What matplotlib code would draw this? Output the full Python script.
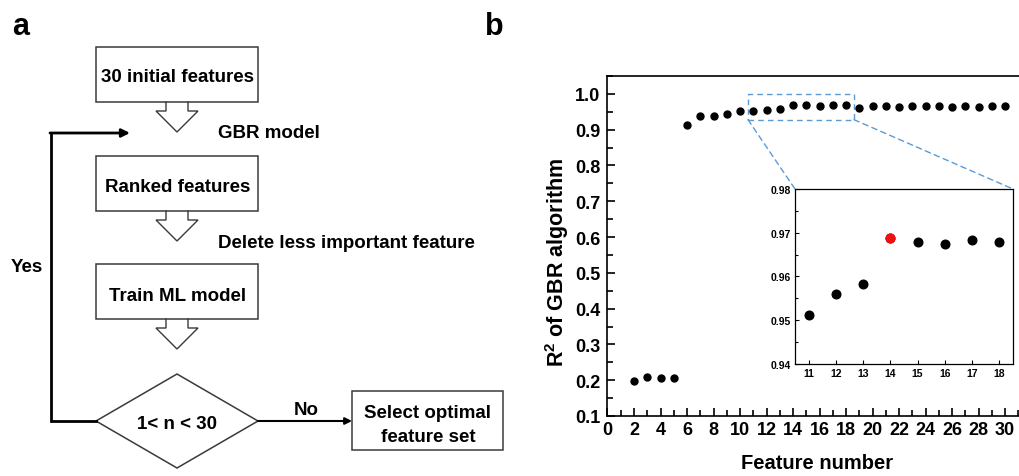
import matplotlib
matplotlib.use("Agg")
import matplotlib.pyplot as plt
from matplotlib.patches import Polygon, Rectangle, ConnectionPatch
from matplotlib.ticker import MultipleLocator, FormatStrFormatter

# feature-selection curve: number of features vs R2 of the GBR model
feature_num = [2, 3, 4, 5, 6, 7, 8, 9, 10, 11, 12, 13, 14, 15, 16,
               17, 18, 19, 20, 21, 22, 23, 24, 25, 26, 27, 28, 29, 30]
r2_score = [0.197, 0.210, 0.207, 0.206, 0.912, 0.938, 0.937, 0.944, 0.951,
            0.951, 0.956, 0.958, 0.969, 0.968, 0.9674, 0.9684, 0.968, 0.961,
            0.967, 0.967, 0.964, 0.966, 0.966, 0.967, 0.964, 0.965, 0.962,
            0.965, 0.965]

# zoomed range shown in the inset
zoom_num = [11, 12, 13, 14, 15, 16, 17, 18]
zoom_r2 = [0.9512, 0.9561, 0.9582, 0.9688, 0.9680, 0.9674, 0.9684, 0.9680]
best_num = 14

# flowchart labels
step_labels = ["30 initial features", "Ranked features", "Train ML model"]
side_labels = ["GBR model", "Delete less important feature"]
decision_label = "1< n < 30"
final_label = ["Select optimal", "feature set"]

plt.rcParams["font.family"] = ["Liberation Sans", "DejaVu Sans"]
plt.rcParams["font.weight"] = "bold"
plt.rcParams["mathtext.fontset"] = "custom"
plt.rcParams["mathtext.rm"] = "Liberation Sans:bold"
plt.rcParams["mathtext.bf"] = "Liberation Sans:bold"

W, H = 1020, 477
fig = plt.figure(figsize=(W / 100, H / 100), dpi=100)

# ---------------- panel a: flowchart drawn in pixel coordinates ----------------
fc = fig.add_axes([0, 0, 1, 1])
fc.set_xlim(0, W)
fc.set_ylim(H, 0)
fc.axis("off")

EDGE = "#3a3a3a"
FS = 13.5


def box(x0, y0, x1, y1):
    fc.add_patch(Rectangle((x0, y0), x1 - x0, y1 - y0, fill=False,
                           ec=EDGE, lw=1.1))


def hollow_arrow(cx, y0, tip):
    yh = y0 + 9
    xs = [cx - 11, cx - 11, cx - 21, cx, cx + 21, cx + 11, cx + 11]
    ys = [y0, yh, yh, tip, yh, yh, y0]
    fc.plot(xs, ys, color=EDGE, lw=1.0, solid_joinstyle="miter")


cx = 177
box_rows = [(48, 103), (157, 212), (265, 320)]
text_base = [82, 192, 301]
for (y0, y1), lab, yb in zip(box_rows, step_labels, text_base):
    box(96, y0, 258, y1)
    fc.text(cx + 1, yb, lab, ha="center", va="baseline", fontsize=FS)
    hollow_arrow(cx, y1, y1 + 30)

for lab, yb in zip(side_labels, [138, 248]):
    fc.text(218, yb, lab, ha="left", va="baseline", fontsize=FS)

fc.add_patch(Polygon([(96, 422), (cx, 375), (258, 422), (cx, 469)],
                     closed=True, fill=False, ec=EDGE, lw=1.1))
fc.text(cx, 429, decision_label, ha="center", va="baseline", fontsize=FS)

# loop back ("Yes") and exit ("No")
fc.plot([96, 51, 51], [422, 422, 134], color="black", lw=2.0,
        solid_joinstyle="miter")
fc.annotate("", xy=(130, 134), xytext=(50, 134),
            arrowprops=dict(arrowstyle="-|>", color="black", lw=2.0,
                            shrinkA=0, shrinkB=0, mutation_scale=12))
fc.annotate("", xy=(352, 422), xytext=(258, 422),
            arrowprops=dict(arrowstyle="-|>", color="black", lw=1.5,
                            shrinkA=0, shrinkB=0, mutation_scale=10))
fc.text(27, 272, "Yes", ha="center", va="baseline", fontsize=FS)
fc.text(306, 415, "No", ha="center", va="baseline", fontsize=FS)

box(352, 392, 503, 451)
for lab, yb in zip(final_label, [418, 442]):
    fc.text(428, yb, lab, ha="center", va="baseline", fontsize=FS)

fc.text(12, 35, "a", ha="left", va="baseline", fontsize=22)
fc.text(485, 35, "b", ha="left", va="baseline", fontsize=22)

# ---------------- panel b: R2 vs feature number ----------------
ax = fig.add_axes([607.5 / W, 1 - 417 / H, 412.5 / W, 340 / H])
ax.plot(feature_num, r2_score, "o", color="black", ms=5, zorder=3)
ax.set_xlim(0, 31.13)
ax.set_ylim(0.1, 1.05)
ax.xaxis.set_major_locator(MultipleLocator(2))
ax.xaxis.set_minor_locator(MultipleLocator(1))
ax.yaxis.set_major_locator(MultipleLocator(0.1))
ax.yaxis.set_minor_locator(MultipleLocator(0.05))
ax.yaxis.set_major_formatter(FormatStrFormatter("%.1f"))
ax.tick_params(which="both", direction="in", width=1.2, labelsize=13)
ax.tick_params(which="major", length=6)
ax.tick_params(which="minor", length=4)
ax.tick_params(axis="x", pad=3.5)
ax.tick_params(axis="y", pad=5)
for sp in ax.spines.values():
    sp.set_linewidth(1.2)
for lab in ax.get_xticklabels() + ax.get_yticklabels():
    lab.set_fontweight("bold")

ax.set_xlabel("Feature number", fontsize=14.5, fontweight="bold")
ax.set_ylabel(r"R$^{\mathbf{2}}$ of GBR algorithm", fontsize=15.5,
              fontweight="bold")
ax.xaxis.set_label_coords(0.509, -0.11)
ax.yaxis.set_label_coords(-0.088, 0.456)

# dashed frame around the zoomed region
zx0, zx1, zy0, zy1 = 10.6, 18.6, 0.928, 1.0
ZC = "#5b9bd5"
ax.add_patch(Rectangle((zx0, zy0), zx1 - zx0, zy1 - zy0, fill=False,
                       ec=ZC, lw=1.0, ls=(0, (4, 3)), zorder=2))

# inset
ins = fig.add_axes([795 / W, 1 - 365 / H, 218 / W, 175 / H])
ins.plot(zoom_num, zoom_r2, "o", color="black", ms=6.2, zorder=3)
i_best = zoom_num.index(best_num)
ins.plot([zoom_num[i_best]], [zoom_r2[i_best]], "o", color="#ee1111",
         ms=6.2, zorder=4)
ins.set_xlim(10.5, 18.5)
ins.set_ylim(0.94, 0.98)
ins.set_xticks(zoom_num)
ins.yaxis.set_major_locator(MultipleLocator(0.01))
ins.yaxis.set_minor_locator(MultipleLocator(0.005))
ins.yaxis.set_major_formatter(FormatStrFormatter("%.2f"))
ins.tick_params(which="both", direction="in", width=0.8, labelsize=7.5,
                pad=3)
ins.tick_params(which="major", length=3)
ins.tick_params(which="minor", length=2)
for sp in ins.spines.values():
    sp.set_linewidth(0.9)
for lab in ins.get_xticklabels() + ins.get_yticklabels():
    lab.set_fontweight("bold")

for (xa, xb) in [(zx0, 0), (zx1, 1)]:
    con = ConnectionPatch(xyA=(xa, zy0), coordsA=ax.transData,
                          xyB=(xb, 1), coordsB=ins.transAxes,
                          color=ZC, lw=1.0, ls=(0, (4, 3)))
    fig.add_artist(con)

fig.savefig("out.png", dpi=100)
